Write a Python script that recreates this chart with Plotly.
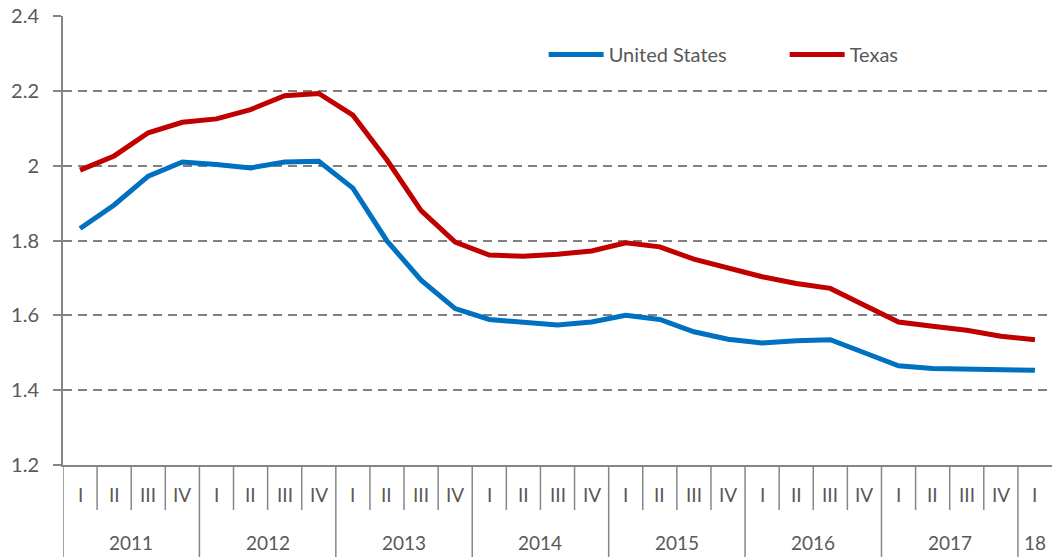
import plotly.graph_objects as go

years = ["2011"] * 4 + ["2012"] * 4 + ["2013"] * 4 + ["2014"] * 4 + ["2015"] * 4 + ["2016"] * 4 + ["2017"] * 4 + ["18"]
quarters = ["I", "II", "III", "IV"] * 7 + ["I"]
year_labels = ["2011", "2012", "2013", "2014", "2015", "2016", "2017", "18"]

us = [1.832, 1.895, 1.972, 2.010, 2.003, 1.994, 2.010, 2.012,
      1.940, 1.799, 1.694, 1.618, 1.589, 1.580, 1.574, 1.582,
      1.600, 1.589, 1.556, 1.536, 1.526, 1.532, 1.535, 1.500,
      1.465, 1.458, 1.456, 1.452, 1.453]
texas = [1.988, 2.026, 2.088, 2.116, 2.125, 2.150, 2.187, 2.193,
         2.135, 2.015, 1.880, 1.796, 1.761, 1.758, 1.763, 1.772,
         1.794, 1.783, 1.750, 1.727, 1.703, 1.685, 1.672, 1.627,
         1.582, 1.571, 1.560, 1.544, 1.535]

cats = [f"{y} {q}" for y, q in zip(years, quarters)]

FONT = "Lato"
TXT = "#595959"
AX = "#868686"
GRID = "#808080"

fig = go.Figure()
fig.add_trace(go.Scatter(x=cats, y=us, mode="lines", name="United States",
                         line=dict(color="#0070C0", width=5)))
fig.add_trace(go.Scatter(x=cats, y=texas, mode="lines", name="Texas",
                         line=dict(color="#C00000", width=5)))

PLOT_H = 557 - 16 - 92
def py(px):
    return -(px - 465) / PLOT_H

shapes = []
annotations = []
n = len(cats)
for i, q in enumerate(quarters):
    annotations.append(dict(x=i, y=py(495), xref="x", yref="paper", text=q, showarrow=False,
                            font=dict(size=19, color=TXT), xanchor="center", yanchor="middle"))
bounds = [-0.5]
for i in range(1, n):
    if years[i] != years[i - 1]:
        bounds.append(i - 0.5)
for i in range(1, n):
    b = i - 0.5
    if b not in bounds:
        shapes.append(dict(type="line", xref="x", yref="paper", x0=b, x1=b, y0=0, y1=py(510),
                           line=dict(color=AX, width=1.5)))
for b in bounds:
    shapes.append(dict(type="line", xref="x", yref="paper", x0=b, x1=b, y0=0, y1=py(560),
                       line=dict(color=AX, width=1.5)))
for y in year_labels:
    idx = [i for i, yy in enumerate(years) if yy == y]
    xc = (idx[0] + idx[-1]) / 2
    annotations.append(dict(x=xc, y=py(542), xref="x", yref="paper", text=y, showarrow=False,
                            font=dict(size=19, color=TXT), xanchor="center", yanchor="middle"))

fig.update_layout(
    width=1052, height=557,
    margin=dict(l=63, r=0, t=16, b=92),
    plot_bgcolor="white", paper_bgcolor="white",
    font=dict(family=FONT, size=19, color=TXT),
    legend=dict(orientation="h", x=0.486, y=0.914, xanchor="left", yanchor="middle",
                font=dict(size=20, color=TXT), itemwidth=55, entrywidth=171,
                bgcolor="rgba(0,0,0,0)"),
    shapes=shapes,
    annotations=annotations,
)
fig.update_xaxes(
    type="category", range=[-0.5, n - 0.5], showticklabels=False, ticks="",
    showline=True, linecolor=AX, linewidth=2, showgrid=False, zeroline=False,
)
fig.update_yaxes(
    range=[1.2, 2.4], dtick=0.2, tick0=1.2, showgrid=True, gridcolor=GRID, gridwidth=1.75,
    griddash="9px,6px", showline=True, linecolor=AX, linewidth=2, zeroline=False,
    ticks="outside", ticklen=8, tickcolor=AX, tickwidth=1.75, ticklabelstandoff=10,
    tickfont=dict(size=20, color=TXT),
)
fig.write_html("out.html", config={"displayModeBar": False},
               post_script="document.body.style.margin='0';document.body.style.overflow='hidden';")
